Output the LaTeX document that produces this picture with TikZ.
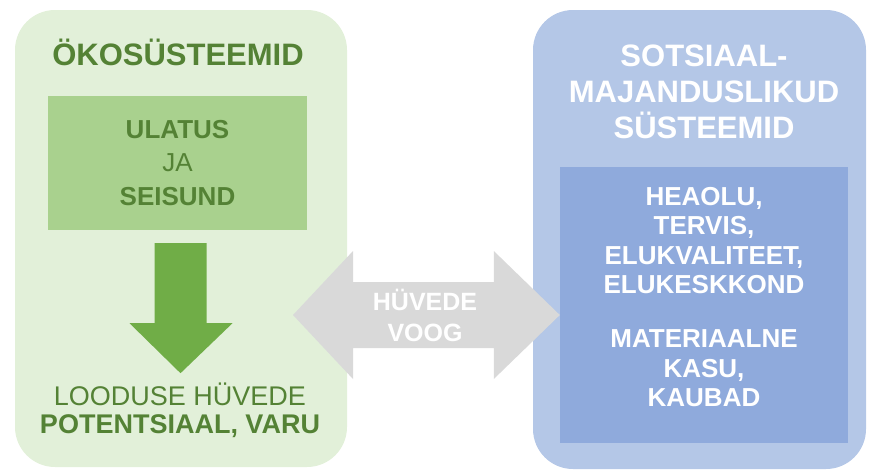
\documentclass[tikz,border=0pt]{standalone}
\usepackage{fontspec}
\setmainfont{Liberation Sans}
\usepackage{tikz}
\usetikzlibrary{positioning, calc}
\definecolor{ecobg}{HTML}{E2F0D9}
\definecolor{ecoinner}{HTML}{A9D18E}
\definecolor{ecoarrow}{HTML}{70AD47}
\definecolor{ecotext}{HTML}{548235}
\definecolor{socbg}{HTML}{B4C7E7}
\definecolor{socinner}{HTML}{8FAADC}
\definecolor{flowgray}{HTML}{D9D9D9}

\begin{document}
\begin{tikzpicture}[x=1pt, y=-1pt,
    outer/.style={rounded corners=40pt, inner sep=0pt},
    inner/.style={inner sep=0pt, align=center},
    title/.style={inner sep=0pt, align=center,
                  font=\fontsize{31}{36}\selectfont\bfseries},
    bodytxt/.style={inner sep=0pt, align=center,
                    font=\fontsize{26}{29.5}\selectfont\bfseries}
]
    \useasboundingbox (0,0) rectangle (869,474);

    % Ecosystems
    \node[outer, fill=ecobg, minimum width=332pt, minimum height=457pt]
         (eco) at (181,238.5) {};
    \node[title, text=ecotext, anchor=base] (ecotitle) at (178,65)
         {ÖKOSÜSTEEMID};
    \node[inner, fill=ecoinner, text=ecotext, minimum width=259pt,
          minimum height=134pt, font=\fontsize{26}{33.5}\selectfont\bfseries]
         (ulatus) at (177.5,163)
         {ULATUS\\{\mdseries JA}\\SEISUND};
    \node[inner, text=ecotext, font=\fontsize{27}{28}\selectfont]
         (varu) at (180,410)
         {LOODUSE HÜVEDE\\\textbf{POTENTSIAAL, VARU}};

    % Socio-economic systems
    \node[outer, fill=socbg, minimum width=333pt, minimum height=459pt]
         (soc) at (699.5,239.5) {};
    \node[title, text=white] (soctitle) at (704,92)
         {SOTSIAAL-\\MAJANDUSLIKUD\\SÜSTEEMID};
    \node[inner, fill=socinner, minimum width=288pt, minimum height=276pt]
         (heaolu) at (704,305) {};
    \node[bodytxt, text=white] (heaolutxt) at (704,297)
         {HEAOLU,\\TERVIS,\\ELUKVALITEET,\\ELUKESKKOND\\[24.5pt]
          MATERIAALNE\\KASU,\\KAUBAD};

    % Arrows
    \path (ulatus.south) ++(3,0) coordinate (gtop);
    \fill[ecoarrow] (gtop) ++(-26,13) -- ++(52,0) -- ++(0,80) -- ++(26,0)
         -- ++(-52,50) -- ++(-51,-50) -- ++(25,0) -- cycle;

    \coordinate (flowL) at (293,315);
    \coordinate (flowR) at (heaolu.west |- flowL);
    \fill[flowgray] (flowL) -- ++(60,-64) -- ++(0,31) -- ($(flowR)+(-66,-33)$)
         -- ++(0,-31) -- (flowR) -- ++(-66,64) -- ++(0,-31)
         -- ($(flowL)+(60,33)$) -- ++(0,31) -- cycle;
    \node[inner, text=white, font=\fontsize{25}{31}\selectfont\bfseries]
         (voog) at (425,315) {HÜVEDE\\VOOG};
\end{tikzpicture}
\end{document}
